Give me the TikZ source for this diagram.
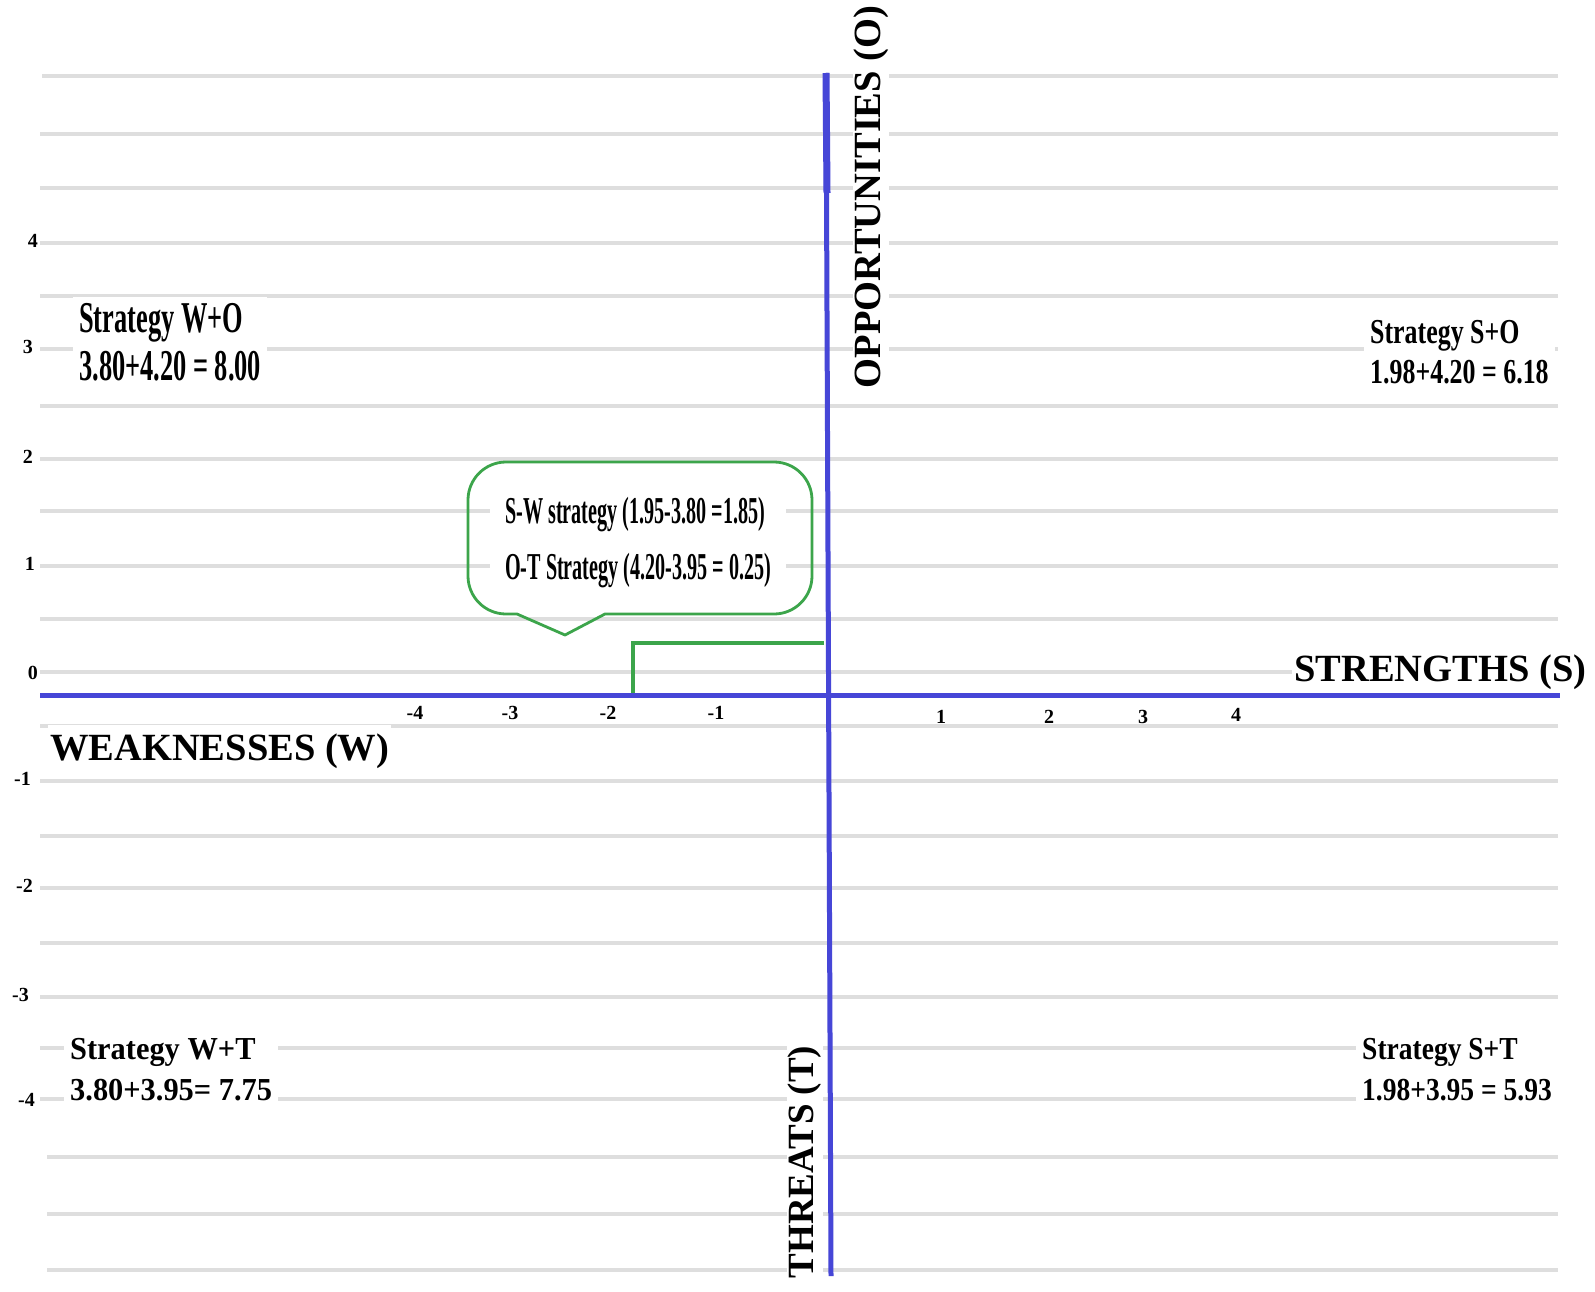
\documentclass[tikz,border=0pt]{standalone}
\usepackage{fontspec}
\setmainfont{Liberation Serif}
\usepackage{graphicx}
\definecolor{axisblue}{RGB}{70,70,215}
\definecolor{callgreen}{RGB}{60,165,75}
\definecolor{gridgray}{RGB}{222,222,222}
\tikzset{
  gridline/.style={line width=4pt, draw=gridgray},
  axisline/.style={line width=5pt, draw=axisblue},
  greenline/.style={line width=3.2pt, draw=callgreen},
  ticklab/.style={font=\bfseries\fontsize{20}{20}\selectfont, inner sep=0pt},
  axlab/.style={font=\bfseries\fontsize{38.5}{40}\selectfont, fill=white, inner sep=2pt},
  stratlab/.style={align=left, fill=white, inner sep=6pt, anchor=north west},
}
\begin{document}
\begin{tikzpicture}[x=1pt,y=-1pt]
\useasboundingbox (0,0) rectangle (1595,1292);
\fill[white] (0,0) rectangle (1595,1292);
% grid lines
\foreach \yy/\xa in {76/42,134/40,188/40,243/40,296/40,349/40,406/40,459/40,511/40,566/40,619/40,672/40,726/40,781/40,836/40,888/40,943/40,997/40,1048/40,1099/40,1157/47,1214/47,1270/47}
  \draw[gridline] (\xa,\yy) -- (1558,\yy);
% axes
\coordinate (axW) at (40,695);
\coordinate (axE) at (1560,695);
\coordinate (axN) at (826,73);
\coordinate (axN2) at (827,193);
\coordinate (axS) at (831,1276);
\draw[axisline] (axW) -- (axE);
\draw[axisline] (axN) -- (axS);
\draw[axisline, line width=7pt] (axN) -- (axN2);
% green connector
\coordinate (g1) at (824,643);
\coordinate (g2) at (633,693);
\draw[greenline] (g1) -| (g2);
% callout
\draw[greenline, line width=2.8pt, line join=round] (605,614) [rounded corners=38] -- (812,614) -- (812,462) -- (468,462) -- (468,614) [sharp corners] -- (517,614) -- (565,635) -- cycle;
\node[stratlab, inner xsep=15pt, inner ysep=5pt, font=\bfseries\fontsize{38}{56}\selectfont] (call) at (490,492)
  {\scalebox{0.53}[1]{S-W strategy (1.95-3.80 =1.85)}\\\scalebox{0.53}[1]{O-T Strategy (4.20-3.95 = 0.25)}};
% axis labels
\node[axlab, anchor=base west] (lS) at (1292,681) {STRENGTHS (S)};
\node[axlab, anchor=base west, inner ysep=8pt] (lW) at (48,760) {WEAKNESSES (W)};
\node[axlab, rotate=90, inner sep=1pt] (lO) at (871,197) {OPPORTUNITIES (O)};
\node[axlab, rotate=90, inner sep=1pt, font=\bfseries\fontsize{37}{40}\selectfont] (lT) at (805,1162) {THREATS (T)};
% strategy labels
\node[stratlab, font=\bfseries\fontsize{44}{48}\selectfont] (wo) at (73,297)
  {\scalebox{0.6}[1]{Strategy W+O}\\\scalebox{0.6}[1]{3.80+4.20 = 8.00}};
\node[stratlab, font=\bfseries\fontsize{35}{40}\selectfont] (so) at (1364,314)
  {\scalebox{0.74}[1]{Strategy S+O}\\\scalebox{0.74}[1]{1.98+4.20 = 6.18}};
\node[stratlab, font=\bfseries\fontsize{32}{41}\selectfont] (wt) at (64,1032)
  {\scalebox{0.95}[1]{Strategy W+T}\\\scalebox{0.95}[1]{3.80+3.95= 7.75}};
\node[stratlab, font=\bfseries\fontsize{32}{41}\selectfont] (st) at (1356,1032)
  {\scalebox{0.86}[1]{Strategy S+T}\\\scalebox{0.86}[1]{1.98+3.95 = 5.93}};
% y tick labels
\node[ticklab, anchor=east] (y4) at (38,241) {4};
\node[ticklab, anchor=east] (y3) at (33,347) {3};
\node[ticklab, anchor=east] (y2) at (33,457) {2};
\node[ticklab, anchor=east] (y1) at (35,564) {1};
\node[ticklab, anchor=east] (y0) at (38,673) {0};
\node[ticklab, anchor=east] (ym1) at (31,779) {-1};
\node[ticklab, anchor=east] (ym2) at (33,886) {-2};
\node[ticklab, anchor=east] (ym3) at (29,995) {-3};
\node[ticklab, anchor=east] (ym4) at (35,1100) {-4};
% x tick labels
\node[ticklab] (xm4) at (415,713) {-4};
\node[ticklab] (xm3) at (510,713) {-3};
\node[ticklab] (xm2) at (608,713) {-2};
\node[ticklab] (xm1) at (716,713) {-1};
\node[ticklab] (x1) at (941,717) {1};
\node[ticklab] (x2) at (1049,717) {2};
\node[ticklab] (x3) at (1143,717) {3};
\node[ticklab] (x4) at (1236,715) {4};
\end{tikzpicture}
\end{document}
